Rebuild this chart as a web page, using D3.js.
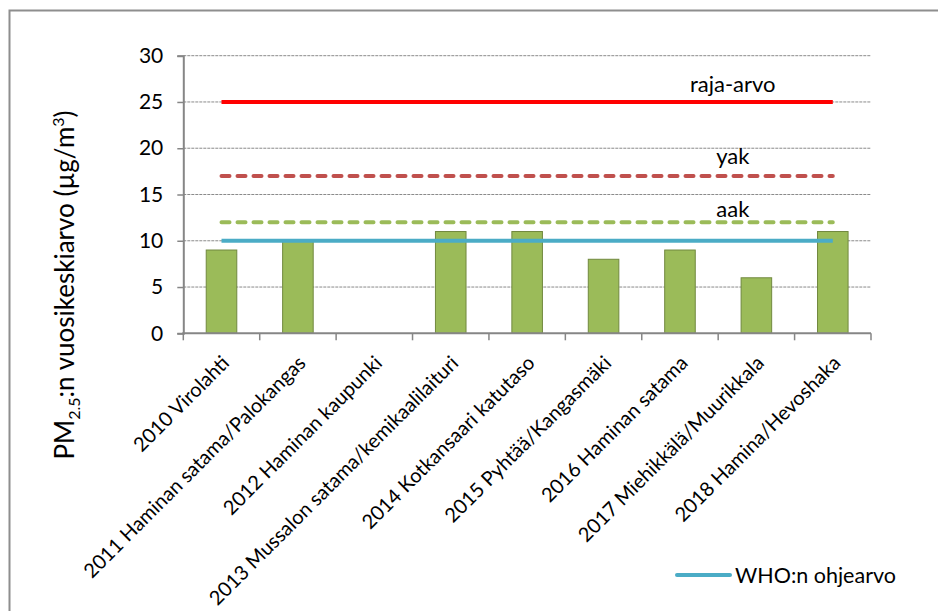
<!DOCTYPE html>
<html>
<head>
<meta charset="utf-8">
<script src="https://cdn.jsdelivr.net/npm/d3@7"></script>
<style>
  html, body { margin: 0; padding: 0; background: #fff; }
  svg { display: block; font-family: "Lato", "Open Sans", sans-serif; }
</style>
</head>
<body>
<svg id="chart" width="938" height="611"></svg>
<script>
// Annual PM2.5 means per measurement site, with limit/target values
const categories = [
  "2010 Virolahti",
  "2011 Haminan satama/Palokangas",
  "2012 Haminan kaupunki",
  "2013 Mussalon satama/kemikaalilaituri",
  "2014 Kotkansaari katutaso",
  "2015 Pyhtää/Kangasmäki",
  "2016 Haminan satama",
  "2017 Miehikkälä/Muurikkala",
  "2018 Hamina/Hevoshaka"
];
const annualMeans = [9, 10, null, 11, 11, 8, 9, 6, 11];
const rajaArvo = [25, 25, 25, 25, 25, 25, 25, 25, 25];
const yak      = [17, 17, 17, 17, 17, 17, 17, 17, 17];
const aak      = [12, 12, 12, 12, 12, 12, 12, 12, 12];
const whoOhjearvo = [10, 10, 10, 10, 10, 10, 10, 10, 10];
const yTicks = [0, 5, 10, 15, 20, 25, 30];

const svg = d3.select("#chart");
const plot = { left: 183.3, right: 871, top: 55.7, bottom: 333.3 };
const axisColor = "#868686";

// outer chart frame
svg.append("rect")
  .attr("x", 9.5).attr("y", 10.5)
  .attr("width", 1000).attr("height", 1000)
  .attr("fill", "none").attr("stroke", "#8e8e8e").attr("stroke-width", 2);

const x = d3.scaleBand().domain(categories)
  .range([plot.left, plot.right]).paddingInner(0.6).paddingOuter(0.3);
const xCenter = d3.scalePoint().domain(categories)
  .range([plot.left, plot.right]).padding(0.5);
const y = d3.scaleLinear().domain([0, 30]).range([plot.bottom, plot.top]);

// dotted gridlines
svg.append("g").selectAll("line").data(yTicks.filter(d => d > 0)).join("line")
  .attr("x1", plot.left).attr("x2", plot.right)
  .attr("y1", d => y(d)).attr("y2", d => y(d))
  .attr("stroke", "#8a8a8a").attr("stroke-width", 1)
  .attr("stroke-dasharray", "3,1");

// bars
svg.append("g").selectAll("rect")
  .data(categories.map((c, i) => ({ c, v: annualMeans[i] })).filter(d => d.v != null))
  .join("rect")
  .attr("x", d => x(d.c)).attr("width", x.bandwidth())
  .attr("y", d => y(d.v)).attr("height", d => y(0) - y(d.v))
  .attr("fill", "#9BBB59").attr("stroke", "#71893F").attr("stroke-width", 1);

// y axis
const yAxis = svg.append("g")
  .attr("transform", `translate(${plot.left},0)`)
  .call(d3.axisLeft(y).tickValues(yTicks).tickSize(6).tickPadding(14));
yAxis.select(".domain").attr("stroke", axisColor).attr("stroke-width", 2);
yAxis.selectAll(".tick line").attr("stroke", axisColor).attr("stroke-width", 1.5);
yAxis.selectAll(".tick text")
  .attr("fill", "#000").style("font-size", "21px").style("font-family", "Lato");

// x axis: ticks at category boundaries
const step = (plot.right - plot.left) / categories.length;
const xAxisG = svg.append("g");
xAxisG.append("line")
  .attr("x1", plot.left - 1).attr("x2", plot.right)
  .attr("y1", plot.bottom).attr("y2", plot.bottom)
  .attr("stroke", axisColor).attr("stroke-width", 2);
xAxisG.selectAll("line.tk").data(d3.range(categories.length + 1)).join("line")
  .attr("class", "tk")
  .attr("x1", i => plot.left + i * step).attr("x2", i => plot.left + i * step)
  .attr("y1", plot.bottom).attr("y2", plot.bottom + 7)
  .attr("stroke", axisColor).attr("stroke-width", 1.5);

// rotated category labels
svg.append("g").selectAll("text").data(categories).join("text")
  .attr("transform", d => `translate(${xCenter(d) + 9},${plot.bottom + 31}) rotate(-45)`)
  .attr("text-anchor", "end")
  .style("font-size", "20px")
  .attr("fill", "#000")
  .text(d => d);

// reference lines
const line = d3.line().x((d, i) => xCenter(categories[i])).y(d => y(d));
const refs = [
  { data: rajaArvo, color: "#FF0000", dash: null, width: 4 },
  { data: yak, color: "#C0504D", dash: "8,8", width: 4 },
  { data: aak, color: "#9BBB59", dash: "8,8", width: 4 },
  { data: whoOhjearvo, color: "#4BACC6", dash: null, width: 4 }
];
svg.append("g").selectAll("path").data(refs).join("path")
  .attr("d", d => line(d.data))
  .attr("fill", "none")
  .attr("stroke", d => d.color)
  .attr("stroke-width", d => d.width)
  .attr("stroke-linecap", d => d.dash ? "round" : "butt")
  .attr("stroke-dasharray", d => d.dash);

// line labels
const lastCat = categories[categories.length - 1];
const lineLabels = [
  { text: "raja-arvo", v: rajaArvo[8], dy: -10 },
  { text: "yak", v: yak[8], dy: -12 },
  { text: "aak", v: aak[8], dy: -5 }
];
svg.append("g").selectAll("text").data(lineLabels).join("text")
  .attr("x", xCenter(lastCat) - 100)
  .attr("y", d => y(d.v) + d.dy)
  .attr("text-anchor", "middle")
  .style("font-size", "22px")
  .attr("fill", "#000")
  .text(d => d.text);

// y axis title with subscript and superscript
const title = svg.append("text")
  .attr("transform", `translate(74,285) rotate(-90)`)
  .attr("text-anchor", "middle")
  .style("font-size", "26px")
  .attr("fill", "#000");
title.append("tspan").text("PM");
title.append("tspan").text("2.5").style("font-size", "16px").attr("dy", 6);
title.append("tspan").text(":n vuosikeskiarvo (µg/m").attr("dy", -6);
title.append("tspan").text("3").style("font-size", "16px").attr("dy", -10);
title.append("tspan").text(")").attr("dy", 10);

// legend
const lg = svg.append("g").attr("transform", "translate(677,575)");
lg.append("line").attr("x1", 0).attr("x2", 53).attr("y1", 0).attr("y2", 0)
  .attr("stroke", "#4BACC6").attr("stroke-width", 4).attr("stroke-linecap", "round");
lg.append("text").attr("x", 58).attr("y", 0).attr("dy", "0.35em")
  .style("font-size", "21.5px").attr("fill", "#000").text("WHO:n ohjearvo");
</script>
</body>
</html>
